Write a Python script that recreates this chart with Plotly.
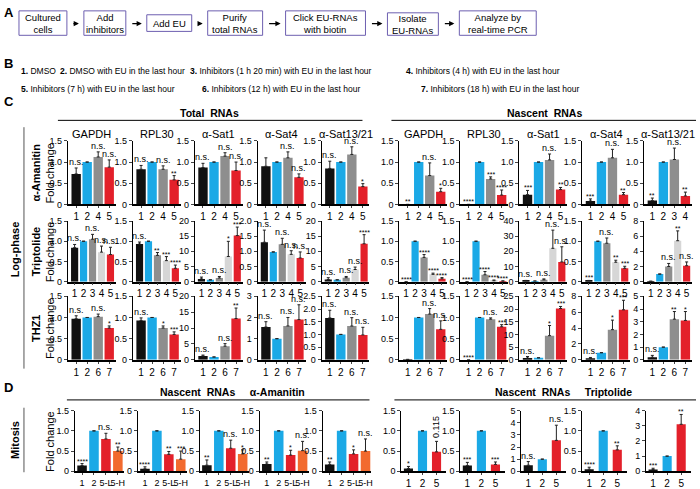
import plotly.graph_objects as go

W, H = 700, 489
FONT = "Liberation Sans"
NARROW = "Liberation Sans Narrow, Liberation Sans"

BLACK = "#111111"; BLUE = "#1ba9e6"; GRAY = "#8e8e8e"; LGRAY = "#d6d6d6"
RED = "#e3202a"; ORANGE = "#f26a2e"

gene_titles = ["GAPDH", "RPL30", "α-Sat1", "α-Sat4", "α-Sat13/21"]

# ---------- Panel C, row alpha-Amanitin ----------
ama_cats = ["1", "2", "4", "5"]
ama_cats_last_nascent = ["1", "2", "3", "4"]
ama_colors = [BLACK, BLUE, GRAY, RED]
ama_total_vals = [[0.72, 1.0, 1.12, 0.88], [0.83, 1.0, 0.83, 0.58], [0.87, 1.0, 1.14, 0.80],
                  [0.90, 1.0, 1.10, 0.64], [0.85, 1.0, 1.18, 0.42]]
ama_total_errs = [[0.14, 0, 0.12, 0.17], [0.09, 0, 0.08, 0.10], [0.10, 0, 0.08, 0.20],
                  [0.20, 0, 0.14, 0.08], [0.17, 0, 0.18, 0.07]]
ama_total_sig = [["n.s.", "", "n.s.", "n.s."], ["n.s.", "", "n.s.", "**"], ["n.s.", "", "n.s.", "n.s."],
                 ["", "", "n.s.", "n.s."], ["n.s.", "", "n.s.", "*"]]
ama_nasc_vals = [[0.0, 1.0, 0.68, 0.30], [0.0, 1.0, 0.60, 0.22], [0.23, 1.0, 1.05, 0.35],
                 [0.08, 1.0, 1.10, 0.23], [0.09, 1.0, 1.06, 0.20]]
ama_nasc_errs = [[0, 0, 0.30, 0.08], [0, 0, 0.05, 0.12], [0.10, 0, 0.14, 0.05],
                 [0.05, 0, 0.20, 0.05], [0.06, 0, 0.27, 0.09]]
ama_nasc_sig = [["**", "", "n.s.", "*"], ["****", "", "***", "****"], ["***", "", "n.s.", "**"],
                ["***", "", "n.s.", "**"], ["**", "", "n.s.", "**"]]
ama_total_ymax = [1.5, 1.5, 1.5, 1.5, 1.5]
ama_total_ystep = [0.5, 0.5, 0.5, 0.5, 0.5]
ama_nasc_ymax = [1.5, 1.5, 1.5, 1.5, 1.5]
ama_nasc_ystep = [0.5, 0.5, 0.5, 0.5, 0.5]

# ---------- Panel C, row Triptolide ----------
trip_cats = ["1", "2", "3", "4", "5"]
trip_colors = [BLACK, BLUE, GRAY, LGRAY, RED]
trip_total_vals = [[0.84, 1.0, 1.05, 0.73, 0.67], [0.93, 1.0, 0.65, 0.52, 0.33],
                   [0.9, 0.6, 1.2, 8.3, 15.2], [1.30, 0.98, 1.23, 0.90, 0.78],
                   [0.7, 0.6, 1.3, 4.0, 12.5]]
trip_total_errs = [[0.08, 0, 0.12, 0.15, 0.18], [0.05, 0, 0.07, 0.10, 0.08],
                   [0.6, 0, 0.5, 5.0, 2.8], [0.40, 0, 0.20, 0.12, 0.20],
                   [0.6, 0, 0.4, 0.8, 3.0]]
trip_total_sig = [["n.s.", "", "n.s.", "n.s.", "n.s."], ["n.s.", "", "**", "***", "****"],
                  ["n.s.", "", "n.s.", "*", "***"], ["n.s.", "", "n.s.", "n.s.", "n.s."],
                  ["n.s.", "", "n.s.", "n.s.", "****"]]
trip_nasc_vals = [[0.0, 1.0, 0.60, 0.18, 0.07], [0.0, 1.0, 0.17, 0.02, 0.01],
                  [0.5, 0.4, 1.2, 22.0, 13.0], [0.02, 1.0, 0.95, 0.48, 0.33],
                  [0.05, 1.0, 2.0, 5.4, 2.1]]
trip_nasc_errs = [[0, 0, 0.07, 0.03, 0.03], [0, 0, 0.08, 0.02, 0.01],
                  [0.3, 0, 0.6, 12.0, 10.0], [0.01, 0, 0.13, 0.05, 0.05],
                  [0, 0, 0.4, 1.3, 0.5]]
trip_nasc_sig = [["****", "", "****", "****", "****"], ["****", "", "****", "****", "****"],
                 ["n.s.", "", "n.s.", "n.s.", "n.s."], ["***", "", "n.s.", "**", "***"],
                 ["", "", "n.s.", "**", "n.s."]]
trip_total_ymax = [1.5, 1.5, 20, 2.0, 20]
trip_total_ystep = [0.5, 0.5, 5, 0.5, 5]
trip_nasc_ymax = [1.5, 1.5, 40, 1.5, 8]
trip_nasc_ystep = [0.5, 0.5, 10, 0.5, 2]

# ---------- Panel C, row THZ1 ----------
thz_cats = ["1", "2", "6", "7"]
thz_colors = [BLACK, BLUE, GRAY, RED]
thz_total_vals = [[0.97, 1.0, 1.02, 0.75], [0.93, 1.0, 0.75, 0.60], [1.2, 0.9, 4.3, 13.0],
                  [1.55, 1.0, 1.60, 1.90], [1.65, 1.0, 1.33, 0.98]]
thz_total_errs = [[0.07, 0, 0.06, 0.05], [0.06, 0, 0.05, 0.06], [0.3, 0, 0.8, 3.3],
                  [0.25, 0, 0.40, 0.70], [0.30, 0, 0.33, 0.30]]
thz_total_sig = [["n.s.", "", "n.s.", "*"], ["n.s.", "", "*", "***"], ["n.s.", "", "n.s.", "**"],
                 ["n.s.", "", "n.s.", "n.s."], ["n.s.", "", "n.s.", "n.s."]]
thz_nasc_vals = [[0.01, 1.0, 1.08, 0.72], [0.0, 1.0, 0.96, 0.78], [0.7, 0.8, 9.5, 20.2],
                 [0.15, 0.9, 3.8, 6.3], [0.2, 1.0, 3.2, 3.1]]
thz_nasc_errs = [[0, 0, 0.13, 0.20], [0, 0, 0.03, 0.05], [0.6, 0, 4.0, 0.8],
                 [0.15, 0, 1.2, 1.2], [0.15, 0, 0.6, 0.7]]
thz_nasc_sig = [["", "", "n.s.", "n.s."], ["****", "", "n.s.", "***"], ["n.s.", "", "*", "***"],
                ["n.s.", "", "*", "***"], ["n.s.", "", "**", "*"]]
thz_total_ymax = [1.5, 1.5, 20, 3, 2.5]
thz_total_ystep = [0.5, 0.5, 5, 1, 0.5]
thz_nasc_ymax = [1.5, 1.5, 25, 8, 5]
thz_nasc_ystep = [0.5, 0.5, 5, 2, 1]

# ---------- Panel D ----------
mit_ama_cats = ["1", "2", "5-L", "5-H"]
mit_ama_colors = [BLACK, BLUE, RED, ORANGE]
mit_ama_vals = [[0.14, 1.0, 0.80, 0.50], [0.06, 1.0, 0.42, 0.30], [0.15, 1.0, 0.57, 0.43],
                [0.18, 1.0, 0.40, 0.51], [0.17, 1.0, 0.43, 0.50]]
mit_ama_errs = [[0.05, 0, 0.14, 0.10], [0.05, 0, 0.07, 0.20], [0.13, 0, 0.20, 0.10],
                [0.05, 0, 0.12, 0.23], [0.06, 0, 0.10, 0.30]]
mit_ama_sig = [["****", "", "n.s.", "**"], ["****", "", "**", "***"], ["**", "", "n.s.", "*"],
               ["**", "", "*", "n.s."], ["**", "", "*", "n.s."]]
mit_ama_ymax = [1.5, 1.5, 1.5, 1.5, 1.5]
mit_ama_ystep = [0.5, 0.5, 0.5, 0.5, 0.5]

mit_trip_cats = ["1", "2", "5"]
mit_trip_colors = [BLACK, BLUE, RED]
mit_trip_vals = [[0.07, 1.0, 0.48], [0.14, 1.0, 0.17], [0.5, 1.0, 2.55],
                 [0.05, 1.0, 0.53], [0.12, 1.0, 3.10]]
mit_trip_errs = [[0.05, 0, 0.26], [0.08, 0, 0.06], [0.3, 0, 1.25],
                 [0.05, 0, 0.10], [0.08, 0, 0.65]]
mit_trip_sig = [["*", "", "0.115"], ["***", "", "***"], ["n.s.", "", "n.s."],
                ["****", "", "**"], ["***", "", "**"]]
mit_trip_ymax = [1.5, 1.5, 5, 1.5, 4]
mit_trip_ystep = [0.5, 0.5, 1, 0.5, 1]

# ---------- text ----------
flow_steps = ["Cultured<br>cells", "Add<br>inhibitors", "Add EU", "Purify<br>total RNAs",
              "Click EU-RNAs<br>with biotin", "Isolate<br>EU-RNAs", "Analyze by<br>real-time PCR"]
legend_items = [("1.", "DMSO"), ("2.", "DMSO with EU in the last hour"),
                ("3.", "Inhibitors (1 h 20 min) with EU in the last hour"),
                ("4.", "Inhibitors (4 h) with EU in the last hour"),
                ("5.", "Inhibitors (7 h) with EU in the last hour"),
                ("6.", "Inhibitors (12 h) with EU in the last hour"),
                ("7.", "Inhibitors (18 h) with EU in the last hour")]

# ---------- layout geometry (pixels) ----------
C_LEFT_X = [68, 133, 195, 258, 322]
C_RIGHT_X = [400, 461, 520, 583, 645]
C_W = 48
ROWS_Y = [(139, 204), (221, 283), (298, 363)]
D_LEFT_X = [75, 138, 200, 260, 323]
D_LEFT_W = 49
D_RIGHT_X = [402, 461, 522, 583, 647]
D_RIGHT_W = 45
D_Y = (415, 477)
FLOW_BOX = [(19, 67, 6, 31), (84, 126, 6, 31), (147, 192, 10, 27), (208, 263, 6, 31),
            (286, 366, 6, 31), (388, 439, 8, 31), (460, 537, 6, 31)]
LEG_POS = [(19, 68), (58, 68), (188, 68), (405, 68), (19, 86), (200, 86), (420, 86)]


def px(x):
    return x / W


def py(y):
    return 1 - y / H


fig = go.Figure()
annotations = []
shapes = []
layout_axes = {}
chart_idx = [0]


def fmt(v, step):
    if v == 0:
        return "0"
    return f"{v:.1f}" if step < 1 else f"{int(round(v))}"


def txt_ann(x, y, text, size=10, xanchor="center", yanchor="middle", angle=0, family=FONT):
    annotations.append(dict(x=px(x), y=py(y), xref="paper", yref="paper", text=text, showarrow=False,
                            xanchor=xanchor, yanchor=yanchor, textangle=angle,
                            font=dict(size=size, family=family, color="black")))


def add_chart(x0, x1, y0, y1, cats, vals, errs, sig, colors, ymax, ystep, title=None, barw=0.8,
              xfont=10, xr=None):
    chart_idx[0] += 1
    i = chart_idx[0]
    n = len(cats)
    xs = list(range(n))
    err_arr = [e if e > 0 else None for e in errs]
    fig.add_trace(go.Bar(
        x=xs, y=vals, marker=dict(color=colors, line=dict(width=0)), width=barw,
        error_y=dict(type="data", array=err_arr, arrayminus=[0] * n, symmetric=False,
                     color="#222222", thickness=1, width=1.5),
        xaxis=f"x{i}", yaxis=f"y{i}", showlegend=False, hoverinfo="skip"))
    kx = "xaxis" if i == 1 else f"xaxis{i}"
    ky = "yaxis" if i == 1 else f"yaxis{i}"
    nt = int(round(ymax / ystep))
    tv = [k * ystep for k in range(nt + 1)]
    layout_axes[kx] = dict(domain=[px(x0), px(x1)], anchor=f"y{i}",
                           range=xr if xr else [-0.75, n - 0.4],
                           tickvals=xs, ticktext=cats, tickangle=0, showgrid=False, zeroline=False,
                           showline=True, linecolor="black", linewidth=1.5, ticks="outside",
                           ticklen=2, tickwidth=1, tickfont=dict(size=xfont, family=FONT, color="black"),
                           fixedrange=True)
    layout_axes[ky] = dict(domain=[py(y1), py(y0)], anchor=f"x{i}", range=[0, ymax],
                           tickvals=tv, ticktext=[fmt(v, ystep) for v in tv], showgrid=False,
                           zeroline=False, showline=True, linecolor="black", linewidth=1,
                           ticks="outside", ticklen=3, tickwidth=1,
                           tickfont=dict(size=9, family=FONT, color="black"), fixedrange=True)
    for j in range(n):
        if sig[j]:
            top = vals[j] + errs[j]
            if sig[j] == "0.115":
                annotations.append(dict(x=j, y=top, xref=f"x{i}", yref=f"y{i}", text=sig[j],
                                        showarrow=False, xanchor="center", yanchor="bottom", textangle=-90,
                                        font=dict(size=9, family=FONT, color="black"), yshift=1))
            else:
                star = "*" in sig[j]
                annotations.append(dict(x=j, y=top, xref=f"x{i}", yref=f"y{i}", text=sig[j],
                                        showarrow=False, xanchor="center", yanchor="bottom",
                                        font=dict(size=7 if star else 9, family=FONT, color="black"),
                                        yshift=-3 if star else -1))
    if title:
        txt_ann((x0 + x1) / 2, 132, title, size=11)


# Panel C rows
rows = [
    (ama_cats, ama_colors, ama_total_vals, ama_total_errs, ama_total_sig, ama_total_ymax, ama_total_ystep,
     ama_nasc_vals, ama_nasc_errs, ama_nasc_sig, ama_nasc_ymax, ama_nasc_ystep, 0.85),
    (trip_cats, trip_colors, trip_total_vals, trip_total_errs, trip_total_sig, trip_total_ymax, trip_total_ystep,
     trip_nasc_vals, trip_nasc_errs, trip_nasc_sig, trip_nasc_ymax, trip_nasc_ystep, 0.8),
    (thz_cats, thz_colors, thz_total_vals, thz_total_errs, thz_total_sig, thz_total_ymax, thz_total_ystep,
     thz_nasc_vals, thz_nasc_errs, thz_nasc_sig, thz_nasc_ymax, thz_nasc_ystep, 0.85),
]
for r, (cats, cols, tv, te, ts, tym, tys, nv, ne, ns, nym, nys, bw) in enumerate(rows):
    y0, y1 = ROWS_Y[r]
    for k in range(5):
        add_chart(C_LEFT_X[k], C_LEFT_X[k] + C_W, y0, y1, cats, tv[k], te[k], ts[k], cols,
                  tym[k], tys[k], title=gene_titles[k] if r == 0 else None, barw=bw)
    for k in range(5):
        c = ama_cats_last_nascent if (r == 0 and k == 4) else cats
        add_chart(C_RIGHT_X[k], C_RIGHT_X[k] + C_W, y0, y1, c, nv[k], ne[k], ns[k], cols,
                  nym[k], nys[k], title=gene_titles[k] if r == 0 else None, barw=bw)

# Panel D
for k in range(5):
    add_chart(D_LEFT_X[k], D_LEFT_X[k] + D_LEFT_W, D_Y[0], D_Y[1], mit_ama_cats, mit_ama_vals[k],
              mit_ama_errs[k], mit_ama_sig[k], mit_ama_colors, mit_ama_ymax[k], mit_ama_ystep[k],
              barw=0.8, xfont=9, xr=[-0.6, 3.5])
for k in range(5):
    add_chart(D_RIGHT_X[k], D_RIGHT_X[k] + D_RIGHT_W, D_Y[0], D_Y[1], mit_trip_cats, mit_trip_vals[k],
              mit_trip_errs[k], mit_trip_sig[k], mit_trip_colors, mit_trip_ymax[k], mit_trip_ystep[k],
              barw=0.65, xr=[-0.5, 2.7])

# Panel letters
for letter, (lx, ly) in zip("ABCD", [(2, 8), (2, 60), (2, 99), (2, 391)]):
    txt_ann(lx, ly, f"<b>{letter}</b>", size=13, xanchor="left")

# Panel A flow
for k, (txt, (bx0, bx1, by0, by1)) in enumerate(zip(flow_steps, FLOW_BOX)):
    shapes.append(dict(type="rect", xref="paper", yref="paper", x0=px(bx0), x1=px(bx1), y0=py(by1), y1=py(by0),
                       line=dict(color="#6d5fb0", width=1), fillcolor="rgba(0,0,0,0)"))
    txt_ann((bx0 + bx1) / 2, (by0 + by1) / 2, txt, size=9.5)
    if k < len(FLOW_BOX) - 1:
        nx0 = FLOW_BOX[k + 1][0]
        annotations.append(dict(x=px(nx0 - 5), y=py(19), xref="paper", yref="paper", ax=-(nx0 - bx1 - 10), ay=0,
                                showarrow=True, arrowhead=2, arrowsize=0.8, arrowwidth=1.3, arrowcolor="black",
                                text=""))

# Panel B legend
for (num, txt), (lx, ly) in zip(legend_items, LEG_POS):
    txt_ann(lx, ly, f"<b>{num}</b> {txt}", size=8.5, xanchor="left", family=NARROW)

# Section headers
for txt, cx, cy, lx0, lx1, ly in [("Total  RNAs", 210, 110, 58, 363, 118),
                                   ("Nascent  RNAs", 545, 110, 392, 697, 118),
                                   ("Nascent  RNAs     α-Amanitin", 233, 396, 67, 370, 404),
                                   ("Nascent  RNAs     Triptolide", 564, 396, 395, 697, 404)]:
    txt_ann(cx, cy, f"<b>{txt}</b>", size=10.5)
    shapes.append(dict(type="line", xref="paper", yref="paper", x0=px(lx0), x1=px(lx1), y0=py(ly), y1=py(ly),
                       line=dict(color="black", width=1)))

# Side labels
for txt, x, yc in [("Log-phase", 15, 250), ("Mitosis", 15, 445)]:
    txt_ann(x, yc, f"<b>{txt}</b>", size=11, angle=-90)
for (ya, yb) in [(125, 372), (412, 478)]:
    shapes.append(dict(type="line", xref="paper", yref="paper", x0=px(24), x1=px(24), y0=py(ya), y1=py(yb),
                       line=dict(color="#555555", width=1)))
for txt, (ya, yb) in zip(["α-Amanitin", "Triptolide", "THZ1"], ROWS_Y):
    txt_ann(36, (ya + yb) / 2, f"<b>{txt}</b>", size=11, angle=-90)
for (ya, yb) in ROWS_Y + [D_Y]:
    txt_ann(50, (ya + yb) / 2, "Fold change", size=11, angle=-90)

fig.update_layout(width=W, height=H, margin=dict(l=0, r=0, t=0, b=0), plot_bgcolor="white",
                  paper_bgcolor="white", annotations=annotations, shapes=shapes,
                  font=dict(family=FONT, color="black"), **layout_axes)
fig.write_html("out.html", config={"displayModeBar": False},
               post_script="document.body.style.margin='0';")
